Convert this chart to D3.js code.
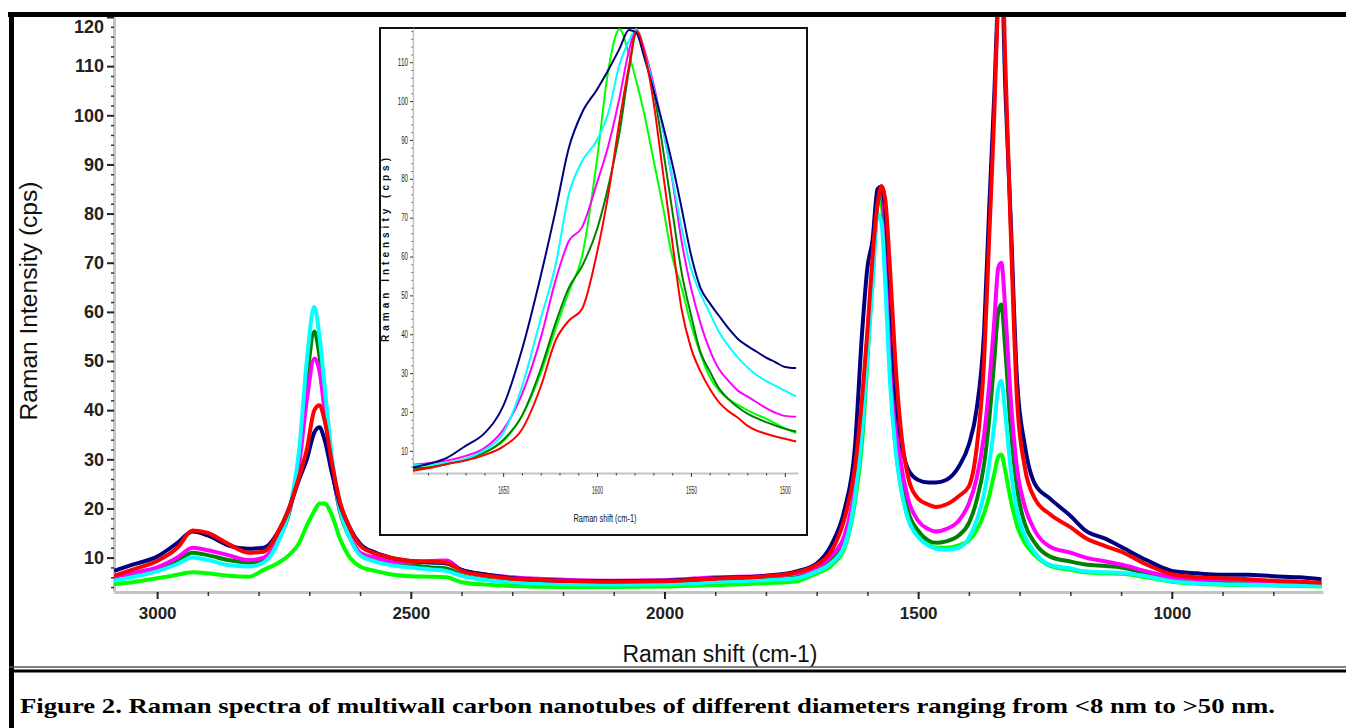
<!DOCTYPE html>
<html>
<head>
<meta charset="utf-8">
<script src="https://cdn.jsdelivr.net/npm/d3@7"></script>
<style>
  body { margin: 0; background: #fff; }
  svg { display: block; }
</style>
</head>
<body>
<svg id="chart" width="1346" height="728"></svg>
<script>
// ---- main spectrum, Raman shift (cm-1) ----
var mainShift = [3085, 3050, 3000, 2960, 2930, 2900, 2860, 2820, 2790, 2760,
  2740, 2720, 2705, 2690, 2680, 2670, 2655, 2640, 2620, 2600,
  2570, 2540, 2500, 2460, 2430, 2400, 2350, 2300, 2200, 2100,
  2000, 1900, 1800, 1740, 1700, 1670, 1645, 1625, 1610, 1600,
  1590, 1580, 1572, 1565, 1555, 1545, 1535, 1520, 1500, 1480,
  1465, 1445, 1420, 1400, 1385, 1370, 1360, 1350, 1342, 1336,
  1328, 1318, 1305, 1290, 1270, 1240, 1200, 1170, 1130, 1100,
  1050, 1000, 950, 900, 850, 800, 750, 705]

var mainNavy = [7.3, 8.5, 10.2, 13, 15.3, 14.5, 12.5, 11.8, 12, 15.5,
  20, 26, 30, 35.5, 36.5, 34, 27, 21, 16, 12.8,
  11, 10, 9.3, 9, 8.8, 7.5, 6.5, 5.8, 5.3, 5.2,
  5.3, 5.8, 6.3, 7.2, 8.8, 12.8, 19.8, 32, 56.5, 69,
  74.5, 85, 85.5, 81, 65, 44.5, 35, 28, 25.8, 25.3,
  25.3, 25.8, 28.5, 33, 40, 56, 81, 104, 125, 130,
  105, 80, 46, 33, 25, 22, 18.5, 15.5, 13.8, 12.2,
  9.5, 7.3, 6.8, 6.5, 6.5, 6.2, 6, 5.6]

var mainRed = [6.3, 7.5, 9.3, 12, 15.5, 15, 12.8, 11, 11.2, 15.5,
  20, 26.5, 32, 40, 41, 38, 29, 21.5, 16, 12.5,
  10.8, 10, 9.3, 9.2, 9, 7.3, 6.3, 5.7, 5.3, 5.1,
  5.2, 5.7, 6.2, 7, 8.5, 11.5, 18, 28, 43, 56,
  71, 82, 85.6, 83, 68, 50, 37, 26.5, 22, 20.8,
  20.3, 20.8, 22.5, 24.5, 32, 50, 75, 100, 125, 135,
  110, 78, 42, 28.5, 22, 18.8, 16.2, 14, 12.3, 11.2,
  8.6, 6.6, 6, 5.8, 5.6, 5.3, 5.1, 4.9]

var mainMagenta = [5.8, 6.8, 8, 10, 12, 11.5, 10.5, 9.5, 10, 14,
  19.5, 29, 42, 50.5, 48, 40, 28, 20, 14.5, 11,
  10, 9.3, 9, 9.3, 9.4, 7.5, 6.5, 6, 5.5, 5.3,
  5.4, 6, 6.3, 6.8, 8, 10.5, 14.5, 24, 38, 55,
  68, 82, 85, 78, 58, 40, 30, 22, 17.5, 15.8,
  15.3, 15.8, 17.5, 21, 26, 35, 45, 58, 69, 70,
  60, 43, 28, 20.5, 15.5, 12.2, 11, 10, 9.2, 8.6,
  7.2, 6, 5.6, 5.5, 5.3, 5.1, 5, 4.8]

var mainDarkGreen = [5.5, 6.3, 7.8, 9.5, 11, 10.5, 9.5, 9, 9.5, 13.8,
  19, 30, 46, 56, 51, 42, 28.5, 19.5, 14, 10.8,
  9.5, 8.8, 8.5, 8, 7.8, 6.5, 5.5, 5, 4.7, 4.6,
  4.7, 5, 5.5, 6, 7.3, 9.5, 13, 22.5, 36, 52,
  67, 82, 84.5, 75, 54, 37, 27.5, 19.5, 15.5, 13.5,
  13, 13.3, 14.5, 17, 21.5, 29, 38, 50, 60, 61.5,
  52, 37, 24, 17, 13, 10.2, 9.2, 8.6, 8.3, 8,
  6.8, 5.6, 5.2, 5, 4.9, 4.7, 4.6, 4.5]

var mainCyan = [5.3, 6, 7.2, 8.7, 10, 9.5, 8.5, 8.2, 9, 13.5,
  19.5, 32, 50, 61, 55, 45, 30, 20, 14, 10.5,
  9.2, 8.5, 8, 7.6, 7.3, 6.3, 5.4, 5, 4.6, 4.5,
  4.6, 5, 5.4, 5.8, 7.2, 9, 12.5, 22, 36, 51,
  65, 80, 78, 66, 45, 32.5, 24.8, 18, 14.2, 12.5,
  11.8, 11.6, 12, 14, 17.5, 23, 29, 37, 44.5, 46,
  39, 28.5, 19.5, 14.5, 11, 8.5, 7.8, 7.2, 7, 6.9,
  6.2, 5.2, 4.8, 4.6, 4.5, 4.4, 4.3, 4.2]

var mainLime = [4.6, 5, 5.8, 6.5, 7, 6.8, 6.3, 6.1, 7.5, 9,
  10.5, 13, 16.5, 19.5, 21, 21, 18.5, 14, 10, 8.2,
  7.3, 6.6, 6.2, 6.1, 6, 5, 4.5, 4.2, 4, 4,
  4.1, 4.4, 4.8, 5.2, 6.8, 8.5, 12, 21, 34, 50,
  68, 83, 82, 70, 48, 33, 25, 18, 14.3, 12.8,
  12, 12, 12.5, 13.5, 15.5, 19, 22.5, 27, 30.5, 31,
  27.5, 22, 16.5, 13, 10.5, 8.3, 7.5, 7, 6.8, 6.7,
  6, 5.1, 4.7, 4.5, 4.4, 4.3, 4.2, 4.1]

// ---- inset, G band region ----
var insetShift = [1698, 1690, 1680, 1670, 1660, 1650, 1640, 1630, 1622, 1615,
  1608, 1600, 1594, 1588, 1583, 1579, 1575, 1570, 1565, 1560,
  1555, 1550, 1545, 1540, 1535, 1530, 1525, 1520, 1515, 1510,
  1505, 1500, 1494]

var insetNavy = [5.7, 6.6, 8.2, 11.3, 14.5, 21.5, 36, 55, 72, 88,
  97, 103, 108, 113.5, 118.3, 117.5, 111.5, 103, 94, 84,
  72.5, 60.5, 52, 48, 44.7, 41.5, 38.8, 37, 35.5, 34,
  32.8, 31.6, 31.3]
var insetRed = [4.9, 5.5, 6.6, 7.5, 8.9, 11.1, 15.5, 26.5, 38.5, 43.5,
  46.5, 61, 76, 95, 109, 118, 113, 100, 82, 64,
  46.5, 36.5, 30.5, 26, 22.5, 20.2, 18.5, 16.5, 15.2, 14.4,
  13.7, 13.1, 12.4]
var insetMagenta = [6.4, 6.8, 7.5, 8.7, 10.7, 15.4, 24.5, 39, 54, 64,
  67.5, 79, 88.5, 101, 113, 118.5, 113.5, 104.5, 93, 80,
  64, 52, 43, 36, 31, 28, 25.5, 24, 22.5, 21,
  19.8, 19, 18.8]
var insetDarkGreen = [5.5, 5.7, 6.6, 7.9, 9.5, 12.8, 19, 31, 43, 52,
  57.5, 67, 78, 92, 108, 117.5, 113, 103, 88, 72,
  56, 45, 35.5, 30.5, 26, 23.3, 21.2, 19.6, 18.4, 17.4,
  16.5, 15.7, 15]
var insetCyan = [6.3, 6.4, 7, 8, 10.2, 14.5, 26.5, 44, 58, 76,
  84.5, 90, 97, 109.5, 115.5, 118.5, 113, 103.5, 93, 80.5,
  67.5, 57, 50.5, 45.5, 40.5, 37, 34, 31.5, 29.5, 28,
  26.7, 25.5, 24]
var insetLime = [5.3, 5.8, 6.6, 7.8, 9.6, 12.5, 19, 30, 41.5, 51,
  60, 85, 108, 118.5, 112, 105, 97, 85, 73, 60,
  52, 42.5, 35, 29, 25.5, 23.3, 21.8, 20.5, 19.3, 18.3,
  17, 15.8, 14.6]

// ---- ticks and text ----
var mainYTicks = [10, 20, 30, 40, 50, 60, 70, 80, 90, 100, 110, 120]
var mainXTicks = [3000, 2500, 2000, 1500, 1000]
var insetYTicks = [10, 20, 30, 40, 50, 60, 70, 80, 90, 100, 110]
var insetXTicks = [1650, 1600, 1550, 1500]
var caption = "Figure 2. Raman spectra of multiwall carbon nanotubes of different diameters ranging from <8 nm to >50 nm."

// drawing order: last one ends up on top
var series = [
  {name: "lime", color: "#00ff00", main: mainLime, inset: insetLime},
  {name: "darkgreen", color: "#008000", main: mainDarkGreen, inset: insetDarkGreen},
  {name: "magenta", color: "#ff00ff", main: mainMagenta, inset: insetMagenta},
  {name: "cyan", color: "#00ffff", main: mainCyan, inset: insetCyan},
  {name: "navy", color: "#000080", main: mainNavy, inset: insetNavy},
  {name: "red", color: "#ff0000", main: mainRed, inset: insetRed}
]

var plain = d3.format("d")
var sans = "'Liberation Sans', Arial, sans-serif"
var narrow = "'Liberation Sans Narrow', 'Arial Narrow', 'Liberation Sans', sans-serif"

var svg = d3.select("#chart")
svg.append("rect").attr("width", 1346).attr("height", 728).attr("fill", "#fff")

var x = d3.scaleLinear().domain([3085, 702]).range([114, 1323])
var y = d3.scaleLinear().domain([3, 120]).range([592, 17])

svg.append("clipPath").attr("id", "clipMain")
  .append("rect").attr("x", 114).attr("y", 17).attr("width", 1209).attr("height", 575)

function range(a, b, step, skip) {
  var out = []
  for (var v = a; v <= b + 1e-9; v += step) {
    if (skip.indexOf(v) < 0) out.push(v)
  }
  return out
}

// main axes
var yMinor = range(4, 118, 2, mainYTicks)
var xMinor = range(800, 3000, 100, mainXTicks)

var gy = svg.append("g").attr("transform", "translate(114,0)")
  .call(d3.axisLeft(y).tickValues(mainYTicks).tickFormat(plain)
    .tickSize(7).tickSizeOuter(0).tickPadding(3))
gy.select(".domain").attr("stroke", "#c4c4c4").attr("stroke-width", 3)
gy.selectAll(".tick line").attr("stroke", "#222").attr("stroke-width", 2)
gy.selectAll(".tick text")
  .attr("font-family", sans)
  .attr("font-size", 18).attr("font-weight", "bold").attr("fill", "#222")
  .attr("y", function(d) { return d == 120 ? 10 : 0 })

svg.append("g").attr("transform", "translate(114,0)")
  .call(d3.axisLeft(y).tickValues(yMinor).tickSize(3).tickFormat(""))
  .call(function(g) {
    g.select(".domain").remove()
    g.selectAll(".tick line").attr("stroke", "#333").attr("stroke-width", 1.5)
  })

var gx = svg.append("g").attr("transform", "translate(0,592)")
  .call(d3.axisBottom(x).tickValues(mainXTicks).tickFormat(plain)
    .tickSize(7).tickSizeOuter(0).tickPadding(8))
gx.select(".domain").attr("stroke", "#c4c4c4").attr("stroke-width", 3)
gx.selectAll(".tick line").attr("stroke", "#222").attr("stroke-width", 2)
gx.selectAll(".tick text")
  .attr("font-family", sans)
  .attr("font-size", 17).attr("font-weight", "bold").attr("fill", "#222")

svg.append("g").attr("transform", "translate(0,592)")
  .call(d3.axisBottom(x).tickValues(xMinor).tickSize(4).tickFormat(""))
  .call(function(g) {
    g.select(".domain").remove()
    g.selectAll(".tick line").attr("stroke", "#333").attr("stroke-width", 1.5)
  })

// main spectra
var mainLine = d3.line()
  .x(function(d, i) { return x(mainShift[i]) })
  .y(function(d) { return y(d) })
  .curve(d3.curveMonotoneX)

svg.append("g").attr("clip-path", "url(#clipMain)")
  .selectAll("path")
  .data(series)
  .enter()
  .append("path")
  .attr("fill", "none")
  .attr("stroke", function(d) { return d.color })
  .attr("stroke-width", 4)
  .attr("stroke-linejoin", "round")
  .attr("d", function(d) { return mainLine(d.main) })

// axis titles
svg.append("text")
  .attr("transform", "translate(37,301) rotate(-90)")
  .attr("text-anchor", "middle")
  .attr("font-family", sans)
  .attr("font-size", 23).attr("fill", "#111")
  .attr("textLength", 239).attr("lengthAdjust", "spacingAndGlyphs")
  .text("Raman Intensity (cps)")

svg.append("text")
  .attr("x", 720).attr("y", 662)
  .attr("text-anchor", "middle")
  .attr("font-family", sans)
  .attr("font-size", 23).attr("fill", "#111")
  .attr("textLength", 195).attr("lengthAdjust", "spacingAndGlyphs")
  .text("Raman shift (cm-1)")

// ---- inset ----
var xi = d3.scaleLinear().domain([1698, 1493]).range([413, 798])
var yi = d3.scaleLinear().domain([4.3, 118.8]).range([473, 28])

svg.append("rect")
  .attr("x", 380).attr("y", 28).attr("width", 427).attr("height", 507)
  .attr("fill", "#fff").attr("stroke", "#111").attr("stroke-width", 2)

svg.append("clipPath").attr("id", "clipInset")
  .append("rect").attr("x", 413).attr("y", 28).attr("width", 385).attr("height", 445)

var iyMinor = range(6, 118, 2, insetYTicks)
var ixMinor = range(1500, 1690, 10, insetXTicks)

var giy = svg.append("g").attr("transform", "translate(413,0)")
  .call(d3.axisLeft(yi).tickValues(insetYTicks).tickFormat(plain)
    .tickSize(3).tickSizeOuter(0).tickPadding(2))
giy.select(".domain").attr("stroke", "#c4c4c4").attr("stroke-width", 1.5)
giy.selectAll(".tick line").attr("stroke", "#333").attr("stroke-width", 1)
giy.selectAll(".tick text")
  .attr("font-family", narrow)
  .attr("font-size", 10).attr("fill", "#222")
  .attr("textLength", function(d) { return String(d).length * 3.4 })
  .attr("lengthAdjust", "spacingAndGlyphs")

svg.append("g").attr("transform", "translate(413,0)")
  .call(d3.axisLeft(yi).tickValues(iyMinor).tickSize(1.5).tickFormat(""))
  .call(function(g) {
    g.select(".domain").remove()
    g.selectAll(".tick line").attr("stroke", "#555").attr("stroke-width", 1)
  })

var gix = svg.append("g").attr("transform", "translate(0,473)")
  .call(d3.axisBottom(xi).tickValues(insetXTicks).tickFormat(plain)
    .tickSize(4).tickSizeOuter(0).tickPadding(10))
gix.select(".domain").attr("stroke", "#c4c4c4").attr("stroke-width", 2)
gix.selectAll(".tick line").attr("stroke", "#333").attr("stroke-width", 1)
gix.selectAll(".tick text")
  .attr("font-family", narrow)
  .attr("font-size", 10).attr("fill", "#222")
  .attr("textLength", 11).attr("lengthAdjust", "spacingAndGlyphs")

svg.append("g").attr("transform", "translate(0,473)")
  .call(d3.axisBottom(xi).tickValues(ixMinor).tickSize(2.5).tickFormat(""))
  .call(function(g) {
    g.select(".domain").remove()
    g.selectAll(".tick line").attr("stroke", "#444").attr("stroke-width", 1)
  })

var insetLine = d3.line()
  .x(function(d, i) { return xi(insetShift[i]) })
  .y(function(d) { return yi(d) })
  .curve(d3.curveMonotoneX)

svg.append("g").attr("clip-path", "url(#clipInset)")
  .selectAll("path")
  .data(series)
  .enter()
  .append("path")
  .attr("fill", "none")
  .attr("stroke", function(d) { return d.color })
  .attr("stroke-width", 2)
  .attr("stroke-linejoin", "round")
  .attr("d", function(d) { return insetLine(d.inset) })

svg.append("text")
  .attr("transform", "translate(389,250) rotate(-90)")
  .attr("text-anchor", "middle")
  .attr("font-family", sans)
  .attr("font-size", 10).attr("font-weight", "bold").attr("fill", "#111")
  .attr("textLength", 184).attr("lengthAdjust", "spacing")
  .text("Raman Intensity (cps)")

svg.append("text")
  .attr("x", 605).attr("y", 522)
  .attr("text-anchor", "middle")
  .attr("font-family", narrow)
  .attr("font-size", 11).attr("fill", "#111")
  .attr("textLength", 63).attr("lengthAdjust", "spacingAndGlyphs")
  .text("Raman shift (cm-1)")

// ---- frame and caption ----
svg.append("line").attr("x1", 8).attr("x2", 1346).attr("y1", 14.5).attr("y2", 14.5)
  .attr("stroke", "#000").attr("stroke-width", 5)
svg.append("line").attr("x1", 11.5).attr("x2", 11.5).attr("y1", 12).attr("y2", 728)
  .attr("stroke", "#000").attr("stroke-width", 5)
svg.append("line").attr("x1", 9).attr("x2", 1346).attr("y1", 667).attr("y2", 667)
  .attr("stroke", "#555").attr("stroke-width", 1.5)
svg.append("line").attr("x1", 9).attr("x2", 1346).attr("y1", 671).attr("y2", 671)
  .attr("stroke", "#000").attr("stroke-width", 3)

svg.append("text")
  .attr("x", 20).attr("y", 713)
  .attr("font-family", "'Liberation Serif', Tinos, 'Times New Roman', Times, serif")
  .attr("font-size", 22).attr("font-weight", "bold").attr("fill", "#000")
  .attr("textLength", 1255).attr("lengthAdjust", "spacingAndGlyphs")
  .text(caption)
</script>
</body>
</html>
